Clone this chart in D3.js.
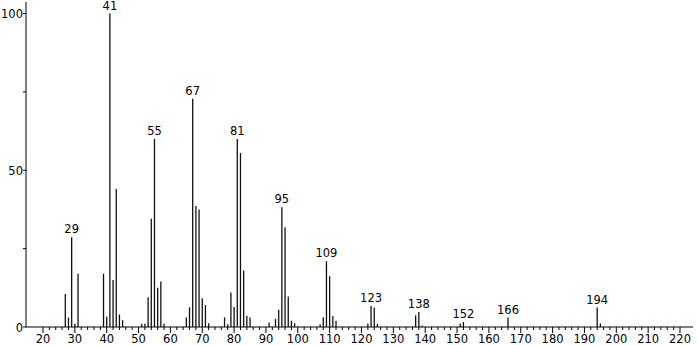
<!DOCTYPE html>
<html>
<head>
<meta charset="utf-8">
<script src="https://cdn.jsdelivr.net/npm/d3@7"></script>
<style>
  html, body { margin: 0; padding: 0; background: #fff; }
  svg { display: block; }
  text { font-family: "DejaVu Sans", sans-serif; fill: #000; }
</style>
</head>
<body>
<svg id="chart" width="697" height="345"></svg>
<script>
// m/z values and relative intensities
const mz = [27,28,29,30,31,39,40,41,42,43,44,45,51,52,53,54,55,56,57,58,
  65,66,67,68,69,70,71,72,77,78,79,80,81,82,83,84,85,91,93,94,95,96,97,98,99,
  107,108,109,110,111,112,122,123,124,125,137,138,139,151,152,166,194,195];
const intensity = [10.5,3,28.6,1,17,17,3.3,100,15,44,4,2.2,1,1,9.5,34.5,60,12.5,14.5,1,
  3,6.3,72.8,38.6,37.5,9.2,7,1.2,3.1,0.9,11,6.4,60,55.5,18,3.6,3,1.4,2.6,5.5,38.2,31.8,9.7,2,1.2,
  0.9,3.1,21,16.2,3.5,2,1.1,6.7,6.2,1,3.7,4.8,0.5,1.1,1.6,3,6.2,1.1];
const labeledPeaks = [29,41,55,67,81,95,109,123,138,152,166,194];
const xTickValues = [20,30,40,50,60,70,80,90,100,110,120,130,140,150,160,170,180,190,200,210,220];
const yTickLabels = [0,50,100];

const svg = d3.select("#chart");
const x = d3.scaleLinear().domain([20, 220]).range([43, 680]);
const y = d3.scaleLinear().domain([0, 100]).range([327, 13.5]);
const xLeft = 26, xRight = 693;

// minor x ticks
const minor = d3.range(20, 221, 2);
const axisG = svg.append("g");
axisG.append("line").attr("x1", xLeft).attr("x2", xRight)
  .attr("y1", y(0)).attr("y2", y(0)).attr("stroke", "#000").attr("stroke-width", 1);
axisG.append("line").attr("x1", xLeft).attr("x2", xLeft)
  .attr("y1", 2).attr("y2", y(0)).attr("stroke", "#000").attr("stroke-width", 1);

axisG.selectAll("line.mt").data(minor).enter().append("line")
  .attr("x1", d => x(d)).attr("x2", d => x(d))
  .attr("y1", y(0)).attr("y2", d => y(0) + (d % 10 === 0 ? 6 : 3))
  .attr("stroke", "#000").attr("stroke-width", 1);

axisG.selectAll("text.xl").data(xTickValues).enter().append("text")
  .attr("x", d => x(d)).attr("y", 343)
  .attr("text-anchor", "middle").attr("font-size", 11.5)
  .text(d => d);

// y ticks
axisG.selectAll("line.yt").data([0,25,50,75,100]).enter().append("line")
  .attr("x1", xLeft - 3).attr("x2", xLeft)
  .attr("y1", d => y(d)).attr("y2", d => y(d))
  .attr("stroke", "#000").attr("stroke-width", 1);
axisG.selectAll("text.yl").data(yTickLabels).enter().append("text")
  .attr("x", 23).attr("y", d => y(d) + 4.5)
  .attr("text-anchor", "end").attr("font-size", 11.5)
  .text(d => d);

// bars
const data = mz.map((m, i) => ({m, v: intensity[i]}));
svg.append("g").selectAll("line").data(data).enter().append("line")
  .attr("x1", d => x(d.m)).attr("x2", d => x(d.m))
  .attr("y1", y(0)).attr("y2", d => y(d.v))
  .attr("stroke", "#111").attr("stroke-width", 1.3);

// peak labels
svg.append("g").selectAll("text").data(data.filter(d => labeledPeaks.includes(d.m))).enter()
  .append("text")
  .attr("x", d => x(d.m)).attr("y", d => y(d.v) - 4)
  .attr("text-anchor", "middle").attr("font-size", 11.5)
  .text(d => d.m);
</script>
</body>
</html>
